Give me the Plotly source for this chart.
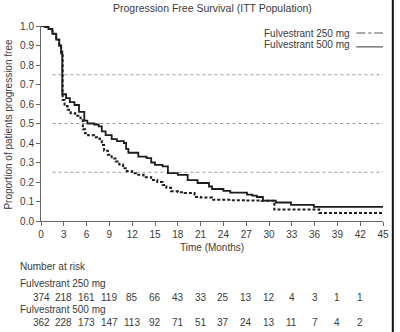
import plotly.graph_objects as go

# Kaplan-Meier step data
t_250 = [0, 0.5, 1.0, 1.5, 2.0, 2.4, 2.65, 2.85, 3.1, 3.5, 3.9, 4.5, 5.2, 5.5, 5.8, 6.2, 7.0, 7.7, 8.0, 8.3,
         8.8, 9.3, 9.8, 10.3, 10.8, 11.3, 12.0, 12.8, 13.5, 14.5, 15.3, 16.0, 16.5, 17.1, 18.0, 18.9, 20.2,
         21.0, 22.5, 25.0, 27.0, 29.0, 30.7, 33.0, 36.6, 45]
p_250 = [1.0, 0.995, 0.985, 0.96, 0.93, 0.9, 0.86, 0.62, 0.59, 0.57, 0.553, 0.54, 0.527, 0.47, 0.45, 0.44, 0.43,
         0.42, 0.39, 0.36, 0.34, 0.32, 0.305, 0.29, 0.27, 0.255, 0.245, 0.237, 0.225, 0.21, 0.2, 0.185, 0.17,
         0.152, 0.148, 0.143, 0.123, 0.12, 0.109, 0.107, 0.105, 0.104, 0.059, 0.059, 0.041, 0.041]

t_500 = [0, 0.5, 1.0, 1.5, 2.0, 2.4, 2.65, 2.8, 3.3, 3.8, 4.4, 5.0, 5.7, 6.1, 7.0, 7.6, 8.0, 8.5, 9.3, 10.0,
         10.9, 11.2, 11.5, 12.8, 13.9, 14.5, 15.0, 16.0, 16.7, 18.0, 19.3, 20.6, 22.1, 22.5, 24.0, 24.9, 27.1,
         27.8, 28.4, 29.2, 30.9, 32.9, 35.9, 45]
p_500 = [1.0, 0.995, 0.985, 0.96, 0.93, 0.9, 0.87, 0.65, 0.63, 0.61, 0.595, 0.56, 0.515, 0.5, 0.495, 0.485, 0.46,
         0.44, 0.42, 0.41, 0.40, 0.37, 0.35, 0.33, 0.322, 0.30, 0.288, 0.28, 0.246, 0.237, 0.21, 0.195, 0.177,
         0.164, 0.155, 0.146, 0.135, 0.13, 0.123, 0.104, 0.095, 0.083, 0.072, 0.072]

risk_times = [0, 3, 6, 9, 12, 15, 18, 21, 24, 27, 30, 33, 36, 39, 42]
risk_250 = [374, 218, 161, 119, 85, 66, 43, 33, 25, 13, 12, 4, 3, 1, 1]
risk_500 = [362, 228, 173, 147, 113, 92, 71, 51, 37, 24, 13, 11, 7, 4, 2]

x_ticks = list(range(0, 46, 3))
y_ticks = [0.0, 0.1, 0.2, 0.3, 0.4, 0.5, 0.6, 0.7, 0.8, 0.9, 1.0]
grid_levels = [0.25, 0.5, 0.75]

FONT = "Liberation Sans, Arial, sans-serif"
TXT = "#3a3a3a"
INK = "#1c1c1c"

fig = go.Figure()
fig.add_trace(go.Scatter(x=t_250, y=p_250, mode="lines", line=dict(shape="hv", color=INK, width=2, dash="3px,2px"),
                         name="Fulvestrant 250 mg", showlegend=False))
fig.add_trace(go.Scatter(x=t_500, y=p_500, mode="lines", line=dict(shape="hv", color=INK, width=1.8),
                         name="Fulvestrant 500 mg", showlegend=False))

for g in grid_levels:
    fig.add_shape(type="line", xref="x", yref="y", x0=1.5, x1=45, y0=g, y1=g,
                  line=dict(color="#9a9a9a", width=1, dash="dot"), layer="below")

annotations = []
annotations.append(dict(text="Progression Free Survival (ITT Population)", x=0.5, y=1.092, xref="paper", yref="paper",
                        showarrow=False, font=dict(size=10.5, color=TXT, family=FONT), xanchor="center", yanchor="middle"))
annotations.append(dict(text="Time (Months)", x=0.5, y=-0.138, xref="paper", yref="paper", showarrow=False,
                        font=dict(size=10, color=TXT, family=FONT), xanchor="center", yanchor="middle"))
annotations.append(dict(text="Proportion of patients progression free", x=-0.095, y=0.497, xref="paper", yref="paper",
                        showarrow=False, textangle=-90, font=dict(size=10, color=TXT, family=FONT),
                        xanchor="center", yanchor="middle"))
annotations.append(dict(text="Fulvestrant 250 mg", x=0.908, y=0.964, xref="paper", yref="paper", showarrow=False,
                        font=dict(size=10, color=TXT, family=FONT), xanchor="right", yanchor="middle"))
annotations.append(dict(text="Fulvestrant 500 mg", x=0.908, y=0.903, xref="paper", yref="paper", showarrow=False,
                        font=dict(size=10, color=TXT, family=FONT), xanchor="right", yanchor="middle"))
fig.add_shape(type="line", xref="paper", yref="paper", x0=0.922, x1=1.0, y0=0.964, y1=0.964,
              line=dict(color="#555", width=1, dash="dashdot"))
fig.add_shape(type="line", xref="paper", yref="paper", x0=0.922, x1=1.0, y0=0.893, y1=0.893,
              line=dict(color="#555", width=1.2))
annotations.append(dict(text="Number at risk", x=-0.066, y=-0.231, xref="paper", yref="paper", showarrow=False,
                        font=dict(size=10, color=TXT, family=FONT), xanchor="left", yanchor="middle"))
annotations.append(dict(text="Fulvestrant 250 mg", x=-0.066, y=-0.323, xref="paper", yref="paper", showarrow=False,
                        font=dict(size=10, color=TXT, family=FONT), xanchor="left", yanchor="middle"))
annotations.append(dict(text="Fulvestrant 500 mg", x=-0.066, y=-0.456, xref="paper", yref="paper", showarrow=False,
                        font=dict(size=10, color=TXT, family=FONT), xanchor="left", yanchor="middle"))
for t, n in zip(risk_times, risk_250):
    annotations.append(dict(text=str(n), x=t, y=-0.39, xref="x", yref="paper", showarrow=False,
                            font=dict(size=10, color=TXT, family=FONT), xanchor="center", yanchor="middle"))
for t, n in zip(risk_times, risk_500):
    annotations.append(dict(text=str(n), x=t, y=-0.518, xref="x", yref="paper", showarrow=False,
                            font=dict(size=10, color=TXT, family=FONT), xanchor="center", yanchor="middle"))

# right frame line of the image
fig.add_shape(type="line", xref="paper", yref="paper", x0=1.0287, x1=1.0287, y0=-0.6, y1=1.14,
              line=dict(color="#111", width=2))

fig.update_layout(
    width=400, height=332, autosize=False,
    margin=dict(l=41, r=11, t=26, b=111),
    paper_bgcolor="white", plot_bgcolor="white",
    annotations=annotations,
    showlegend=False,
    font=dict(family=FONT, color=TXT, size=10),
)
fig.update_xaxes(range=[0, 45], tickvals=x_ticks, ticktext=[str(v) for v in x_ticks], showgrid=False, zeroline=False,
                 showline=True, linecolor="#666", linewidth=1, ticks="outside", ticklen=4, tickcolor="#666",
                 tickfont=dict(size=10, color=TXT, family=FONT))
fig.update_yaxes(range=[0, 1.0], tickvals=y_ticks, ticktext=[f"{v:.1f}" for v in y_ticks], showgrid=False,
                 zeroline=False, showline=True, linecolor="#666", linewidth=1, ticks="outside", ticklen=4,
                 tickcolor="#666", tickfont=dict(size=10, color=TXT, family=FONT))

fig.write_html("out.html", config={"responsive": False, "displayModeBar": False})
